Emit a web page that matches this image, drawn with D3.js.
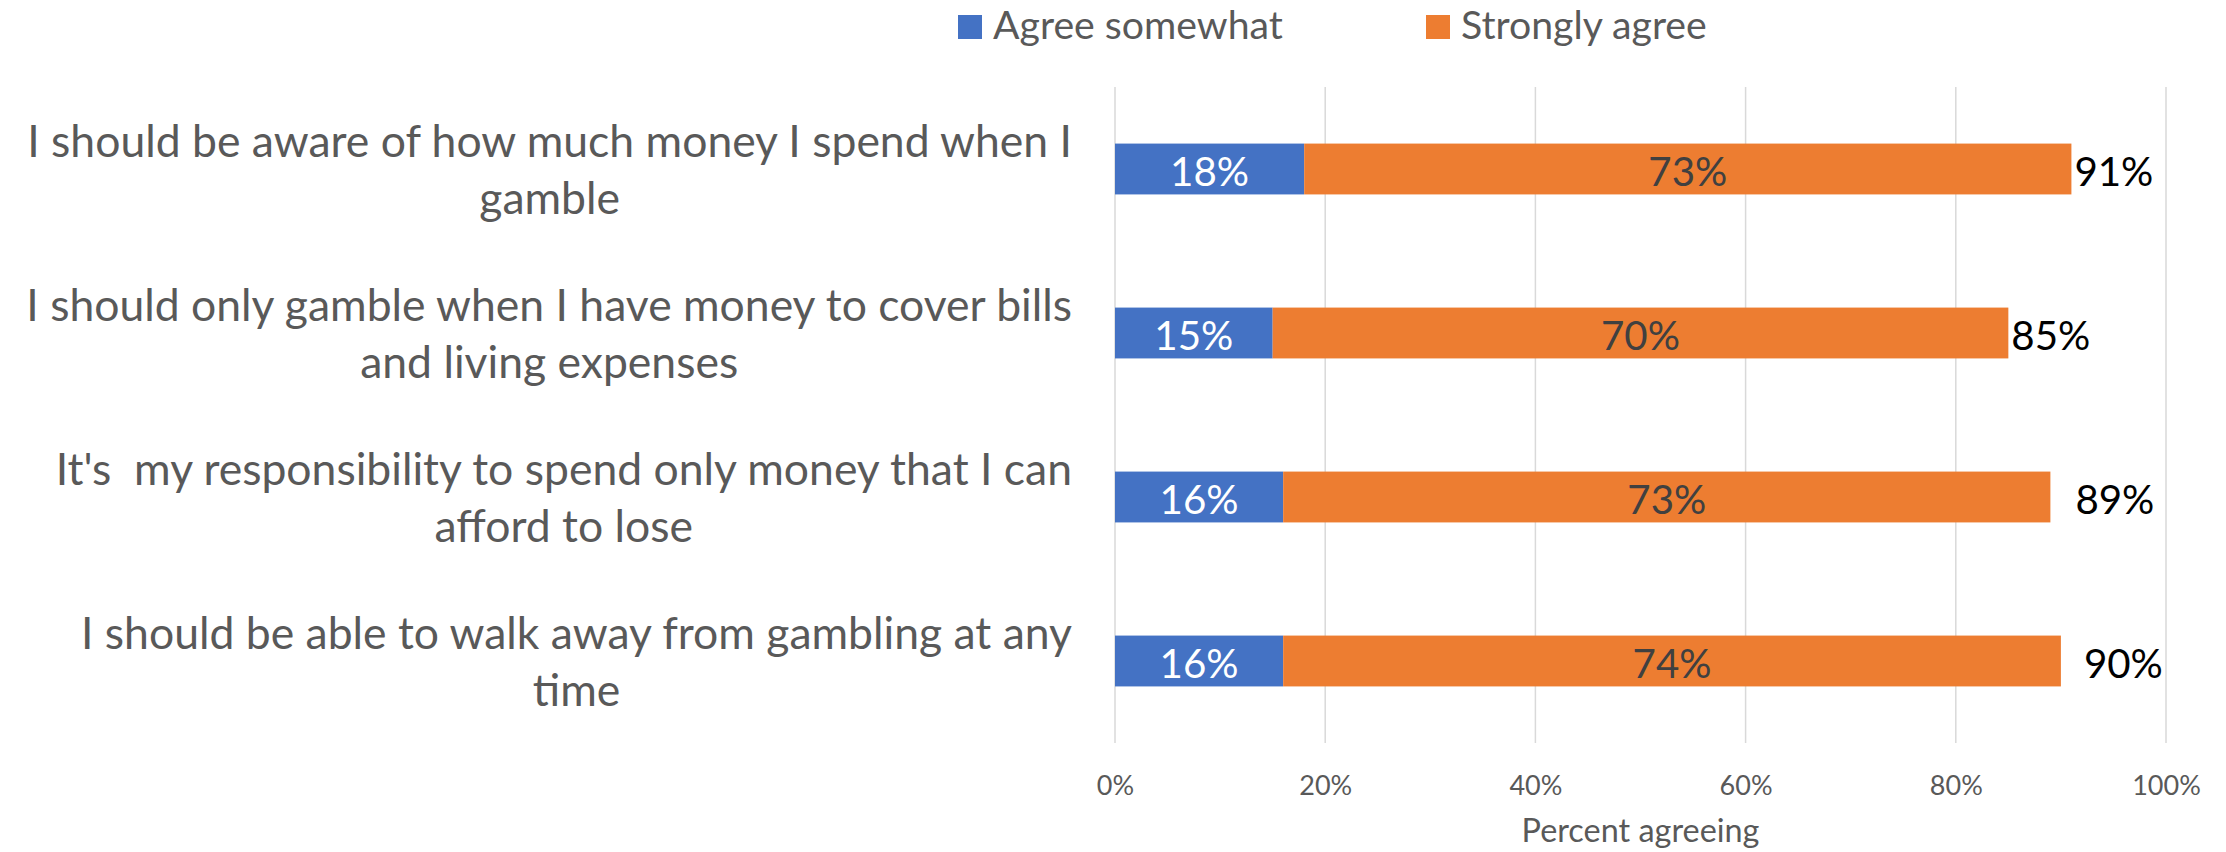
<!DOCTYPE html>
<html><head><meta charset="utf-8">
<script src="https://cdn.jsdelivr.net/npm/d3@7"></script>
<style>
body{margin:0;background:#fff}
text{font-family:Lato,"Open Sans",sans-serif}
</style>
</head><body>
<svg id="c" width="2226" height="852"></svg>
<script>
// ---- data ----
const categories = [
  "I should be aware of how much money I spend when I\ngamble",
  "I should only gamble when I have money to cover bills\nand living expenses",
  "It's  my responsibility to spend only money that I can\nafford to lose",
  "I should be able to walk away from gambling at any\ntime"
];
const seriesNames = ["Agree somewhat", "Strongly agree"];
const agreeSomewhat = [18, 15, 16, 16];
const stronglyAgree = [73, 70, 73, 74];
const totals = [91, 85, 89, 90];
const xTicks = [0, 20, 40, 60, 80, 100];
const axisTitle = "Percent agreeing";

// ---- layout / style ----
const colors = ["#4472C4", "#ED7D31"];
const textGray = "#595959";
const plot = {left: 1115, right: 2166, top: 87, bottom: 743};
const totalLabelNudge = [0, 0, 22, 20];

const svg = d3.select("#c");

function fitSize(str, target) {
  const t = svg.append("text").attr("font-size", 100).style("white-space", "pre").text(str);
  const w = t.node().getComputedTextLength();
  t.remove();
  return 100 * target / w;
}
const catSize = fitSize("I should be aware of how much money I spend when I", 1045);
const valSize = fitSize("18%", 79);
const tickSize = fitSize("20%", 53);
const legSize = fitSize("Agree somewhat", 290);
const titleSize = fitSize("Percent agreeing", 238);

const x = d3.scaleLinear().domain([0, 100]).range([plot.left, plot.right]);
const y = d3.scaleBand().domain(d3.range(categories.length))
  .range([plot.top, plot.bottom]).paddingInner(0.69).paddingOuter(0.345);

// gridlines
svg.append("g").selectAll("line").data(xTicks).join("line")
  .attr("x1", d => x(d)).attr("x2", d => x(d))
  .attr("y1", plot.top).attr("y2", plot.bottom)
  .attr("stroke", "#D9D9D9").attr("stroke-width", 1.5);

// x axis tick labels
const xAxis = d3.axisBottom(x).tickValues(xTicks).tickFormat(d => d + "%").tickSize(0).tickPadding(0);
const gx = svg.append("g").attr("transform", `translate(0,${plot.bottom})`).call(xAxis);
gx.select(".domain").remove();
gx.selectAll("text").attr("font-size", tickSize).attr("fill", textGray)
  .attr("font-family", "Lato, 'Open Sans', sans-serif")
  .attr("dy", null).attr("y", 52);

// axis title
svg.append("text").attr("x", (plot.left + plot.right) / 2).attr("y", 842)
  .attr("text-anchor", "middle").attr("font-size", titleSize).attr("fill", textGray).text(axisTitle);

// stacked bars
const stackData = categories.map((c, i) => ({i, a: agreeSomewhat[i], s: stronglyAgree[i]}));
const bars = svg.append("g");
bars.selectAll("rect.a").data(stackData).join("rect").attr("class", "a")
  .attr("x", d => x(0)).attr("width", d => x(d.a) - x(0))
  .attr("y", d => y(d.i)).attr("height", y.bandwidth()).attr("fill", colors[0]);
bars.selectAll("rect.s").data(stackData).join("rect").attr("class", "s")
  .attr("x", d => x(d.a)).attr("width", d => x(d.a + d.s) - x(d.a))
  .attr("y", d => y(d.i)).attr("height", y.bandwidth()).attr("fill", colors[1]);

const mid = i => y(i) + y.bandwidth() / 2;
const base = valSize * 0.42;
svg.append("g").selectAll("text").data(stackData).join("text")
  .attr("x", d => x(d.a / 2)).attr("y", d => mid(d.i) + base)
  .attr("text-anchor", "middle").attr("font-size", valSize).attr("fill", "#FFFFFF")
  .text(d => d.a + "%");
svg.append("g").selectAll("text").data(stackData).join("text")
  .attr("x", d => x(d.a + d.s / 2)).attr("y", d => mid(d.i) + base)
  .attr("text-anchor", "middle").attr("font-size", valSize).attr("fill", "#404040")
  .text(d => d.s + "%");
svg.append("g").selectAll("text").data(stackData).join("text")
  .attr("x", d => x(totals[d.i]) + 3 + totalLabelNudge[d.i]).attr("y", d => mid(d.i) + base)
  .attr("text-anchor", "start").attr("font-size", valSize).attr("fill", "#000000")
  .text(d => totals[d.i] + "%");

// category labels (block right-aligned, lines centred within block)
const labelRight = 1072;
const lineH = 57;
const catG = svg.append("g");
categories.forEach((c, i) => {
  const lines = c.split("\n");
  const t = catG.append("text").attr("font-size", catSize).attr("fill", textGray)
    .attr("text-anchor", "middle").style("white-space", "pre");
  const widths = [];
  lines.forEach((ln, k) => {
    const ts = t.append("tspan").text(ln);
    widths.push(ts.node().getComputedTextLength());
  });
  const maxW = d3.max(widths);
  const cx = labelRight - maxW / 2;
  const b1 = mid(i) - (lines.length - 1) * lineH / 2 + catSize * 0.36;
  t.selectAll("tspan").attr("x", cx).attr("y", (d, k) => b1 + k * lineH);
});

// legend
const legX = [958, 1426];
const leg = svg.append("g");
seriesNames.forEach((n, i) => {
  leg.append("rect").attr("x", legX[i]).attr("y", 15).attr("width", 24).attr("height", 24).attr("fill", colors[i]);
  leg.append("text").attr("x", legX[i] + 35).attr("y", 39).attr("font-size", legSize).attr("fill", textGray).text(n);
});
</script>
</body></html>
